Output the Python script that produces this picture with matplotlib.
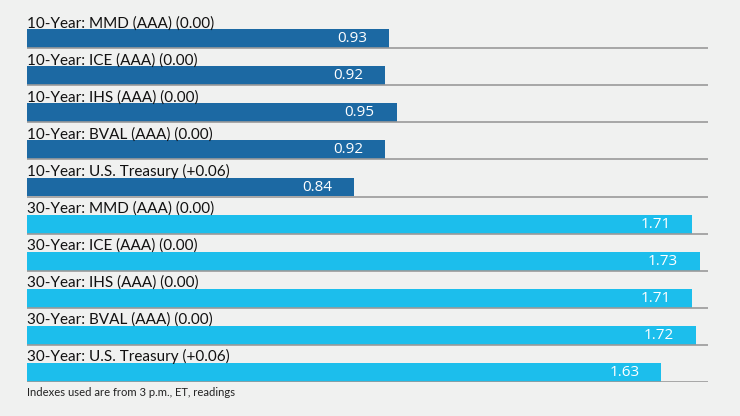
import matplotlib
matplotlib.use("Agg")
import matplotlib.pyplot as plt

labels = [
    "10-Year: MMD (AAA) (0.00)",
    "10-Year: ICE (AAA) (0.00)",
    "10-Year: IHS (AAA) (0.00)",
    "10-Year: BVAL (AAA) (0.00)",
    "10-Year: U.S. Treasury (+0.06)",
    "30-Year: MMD (AAA) (0.00)",
    "30-Year: ICE (AAA) (0.00)",
    "30-Year: IHS (AAA) (0.00)",
    "30-Year: BVAL (AAA) (0.00)",
    "30-Year: U.S. Treasury (+0.06)",
]
values = [0.93, 0.92, 0.95, 0.92, 0.84, 1.71, 1.73, 1.71, 1.72, 1.63]
groups = ["10", "10", "10", "10", "10", "30", "30", "30", "30", "30"]
note = "Indexes used are from 3 p.m., ET, readings"

colors = {"10": "#1c69a3", "30": "#1cbeec"}
bg = "#f0f1f0"
plt.rcParams['font.family'] = ['Lato', 'DejaVu Sans']

W, H = 740, 416
fig = plt.figure(figsize=(W / 100, H / 100), dpi=100, facecolor=bg)
top_px, bot_px = 11, 382
ax = fig.add_axes([27 / W, 1 - bot_px / H, (708 - 27) / W, (bot_px - top_px) / H])
ax.set_facecolor(bg)
n = len(values)
ax.set_xlim(0, 1.75)
ax.set_ylim(n, 0)
ax.axis('off')

bh = 0.51
for i, (lab, v, g) in enumerate(zip(labels, values, groups)):
    ax.barh(i + 1 - bh / 2, v, height=bh, color=colors[g], zorder=2)
    ax.hlines(i + 1, 0, 1.75, color="#9a9a9a", lw=1.2, zorder=3)
    ax.text(0, i + 0.44, lab, fontsize=11, color="#111111", ha='left', va='baseline')
    ax.annotate(f"{v:.2f}", xy=(v, i + 1 - bh / 2), xytext=(-22, 0),
                textcoords='offset pixels', ha='right', va='center',
                color='white', fontsize=11, family=['Open Sans', 'DejaVu Sans'], zorder=4)

fig.text(27 / W, 1 - 393 / H, note, fontsize=8.1, color="#222222", ha='left', va='center')
fig.savefig("out.png", dpi=100, facecolor=bg)
